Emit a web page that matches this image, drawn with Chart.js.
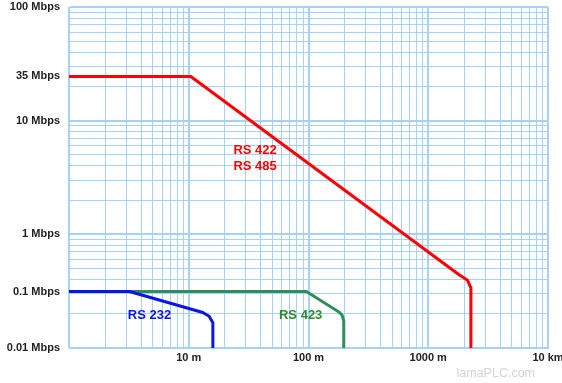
<!DOCTYPE html>
<html><head><meta charset="utf-8">
<script src="https://cdn.jsdelivr.net/npm/chart.js@4"></script>
<style>html,body{margin:0;padding:0;background:#fff}#wrap{width:562px;height:383px;position:relative}</style>
</head><body><div id="wrap"><canvas id="c"></canvas></div>
<script>
// ---- data (distance in metres, rate in Mbps) ----
const RS232_M    = [1, 3.2, 13.1, 14.8, 15.9, 15.9];
const RS232_MBPS = [0.1, 0.1, 0.0425, 0.0365, 0.028, 0.01];
const RS423_M    = [1, 96, 181, 191, 197, 197];
const RS423_MBPS = [0.1, 0.1, 0.043, 0.038, 0.03, 0.01];
const RS422_M    = [1, 10.4, 1810, 2130, 2270, 2270];
const RS422_MBPS = [35, 35, 0.196, 0.157, 0.116, 0.01];

const SERIES_NAMES = ['RS 232', 'RS 423', 'RS 422 / RS 485'];

const X_TICK_VALUES = [10, 100, 1000, 10000];
const X_TICK_LABELS = ['10 m', '100 m', '1000 m', '10 km'];
const Y_TICK_VALUES = [100, 35, 10, 1, 0.1, 0.01];
const Y_TICK_LABELS = ['100 Mbps', '35 Mbps', '10 Mbps', '1 Mbps', '0.1 Mbps', '0.01 Mbps'];

const NOTE_TEXT = ['RS 422', 'RS 485', 'RS 232', 'RS 423'];
const NOTE_M    = [35.8, 35.8, 4.7, 86];
const NOTE_MBPS = [5.46, 3.98, 0.0372, 0.038];

// ---- y axis of the original chart paper: 3 log decades of grid, labels placed along it ----
const Y_AXIS_MBPS = [0.01, 0.1, 1, 10, 35, 100];
const Y_AXIS_FRAC = [0, 0.1657, 0.3333, 0.6667, 0.7963, 1];
const Y_GRID_DECADES = 3;
const X_MIN = 1, X_MAX = 10000;

const RED = '#ff0000', BLUE = '#0a14e6', GREEN = '#2f8f5b', GREEN_TXT = '#2a8c2a';
const NOTE_COLOR = [RED, RED, BLUE, GREEN_TXT];
const GRID = '#a6d1fa';
const FONT = '"Liberation Sans", Arial, sans-serif';

function interp(v, xs, ys) {
  let i = 1;
  while (i < xs.length - 1 && v > xs[i]) i++;
  return ys[i - 1] + (v - xs[i - 1]) * (ys[i] - ys[i - 1]) / (xs[i] - xs[i - 1]);
}
const LOG_ANCH = Y_AXIS_MBPS.map(Math.log10);
const mbpsToFrac = v => interp(Math.log10(v), LOG_ANCH, Y_AXIS_FRAC);
const fracToMbps = f => Math.pow(10, interp(f, Y_AXIS_FRAC, LOG_ANCH));

class PaperScale extends Chart.LogarithmicScale {
  getPixelForValue(value) {
    if (value === null || value === undefined || isNaN(value) || value <= 0) return NaN;
    return this.getPixelForDecimal(mbpsToFrac(value));
  }
  getValueForPixel(pixel) { return fracToMbps(this.getDecimalForPixel(pixel)); }
}
PaperScale.id = 'paper';
PaperScale.defaults = {};
Chart.register(PaperScale);

const pts = (xs, ys) => xs.map((x, i) => ({ x, y: ys[i] }));

const notesPlugin = {
  id: 'notes',
  afterDatasetsDraw(chart) {
    const { ctx } = chart, x = chart.scales.x, y = chart.scales.y;
    ctx.save();
    ctx.font = 'bold 13px ' + FONT;
    ctx.textAlign = 'center';
    ctx.textBaseline = 'middle';
    NOTE_TEXT.forEach((t, i) => {
      ctx.fillStyle = NOTE_COLOR[i];
      ctx.fillText(t, x.getPixelForValue(NOTE_M[i]), y.getPixelForValue(NOTE_MBPS[i]));
    });
    ctx.font = '12.5px ' + FONT;
    ctx.fillStyle = '#d2d2d2';
    ctx.textAlign = 'right';
    ctx.fillText('lamaPLC.com', chart.width - 27, 374);
    ctx.restore();
  }
};

const ds = (label, xs, ys, color) => ({
  label, data: pts(xs, ys), borderColor: color, backgroundColor: color,
  borderWidth: 3, pointRadius: 0, tension: 0, fill: false,
  borderJoinStyle: 'round', borderCapStyle: 'butt'
});

new Chart(document.getElementById('c'), {
  type: 'line',
  data: {
    datasets: [
      ds(SERIES_NAMES[0], RS232_M, RS232_MBPS, BLUE),
      ds(SERIES_NAMES[1], RS423_M, RS423_MBPS, GREEN),
      ds(SERIES_NAMES[2], RS422_M, RS422_MBPS, RED)
    ]
  },
  options: {
    responsive: true, maintainAspectRatio: false, animation: false,
    layout: { padding: { top: 7, right: 14, left: 0, bottom: 0 } },
    plugins: { legend: { display: false }, tooltip: { enabled: false } },
    scales: {
      x: {
        type: 'logarithmic', min: X_MIN, max: X_MAX,
        afterFit: s => { s.height = 35; s.paddingLeft = 0; s.paddingRight = 0; },
        afterBuildTicks: s => {
          const t = [];
          for (let n = 0; Math.pow(10, n) < X_MAX; n++)
            for (let k = 1; k <= 9; k++) t.push({ value: k * Math.pow(10, n), major: k === 1 });
          t.push({ value: X_MAX, major: true });
          s.ticks = t;
        },
        ticks: {
          autoSkip: false, maxRotation: 0, minRotation: 0, padding: 3,
          color: '#222', font: { family: FONT, size: 11, weight: 'bold' },
          callback: v => { const i = X_TICK_VALUES.indexOf(v); return i >= 0 ? X_TICK_LABELS[i] : ''; }
        },
        grid: { drawTicks: false, color: GRID, lineWidth: c => (c.tick && c.tick.major ? 2 : 1) },
        border: { display: true, color: GRID, width: 1 }
      },
      y: {
        type: 'paper', min: Y_AXIS_MBPS[0], max: Y_AXIS_MBPS[Y_AXIS_MBPS.length - 1],
        afterFit: s => { s.width = 69; s.paddingTop = 0; s.paddingBottom = 0; },
        afterBuildTicks: s => {
          const t = [];
          for (let n = 0; n < Y_GRID_DECADES; n++)
            for (let k = 1; k <= 9; k++)
              t.push({ value: fracToMbps(Math.log10(k * Math.pow(10, n)) / Y_GRID_DECADES), major: k === 1 });
          t.push({ value: fracToMbps(1), major: true });
          Y_TICK_VALUES.forEach((v, i) => t.push({ value: v, txt: Y_TICK_LABELS[i] }));
          s.ticks = t;
        },
        ticks: {
          autoSkip: false, padding: 9, color: '#222',
          font: { family: FONT, size: 11, weight: 'bold' },
          callback: (v, i, ticks) => ticks[i].txt || ''
        },
        grid: {
          drawTicks: false,
          color: c => (c.tick && c.tick.txt ? 'rgba(0,0,0,0)' : GRID),
          lineWidth: c => (c.tick && c.tick.major ? 2 : 1)
        },
        border: { display: true, color: GRID, width: 1 }
      }
    }
  },
  plugins: [notesPlugin]
});
</script>
</body></html>
